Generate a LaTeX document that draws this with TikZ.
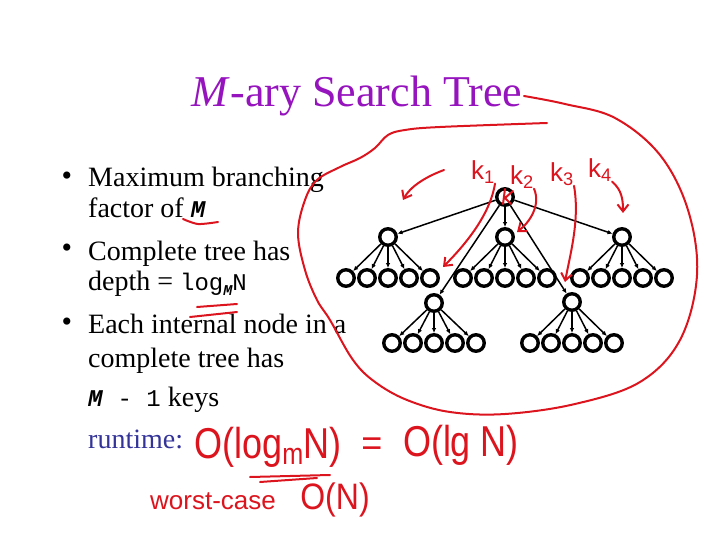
\documentclass[tikz,border=0pt]{standalone}
\usepackage{fontspec}
\setmainfont{Liberation Serif}
\setmonofont{Liberation Mono}
\newfontfamily\inkfont{Liberation Sans}
\usetikzlibrary{arrows.meta,positioning}
\definecolor{titlepurple}{RGB}{150,20,190}
\definecolor{runblue}{RGB}{51,51,153}
\definecolor{inkred}{RGB}{220,20,30}
\newcommand{\code}[1]{{\fontsize{24}{24}\selectfont\ttfamily #1}}
\newcommand{\codeM}{{\fontsize{24}{24}\selectfont\ttfamily\bfseries\itshape M}}
\newcommand{\subM}{\raisebox{-5pt}{\fontsize{15}{15}\selectfont\ttfamily\bfseries\itshape M}}

\begin{document}
\begin{tikzpicture}[x=1pt, y=-1pt,
    vertex/.style={draw, circle, line width=3.4pt, minimum size=16.5pt, inner sep=0pt},
    link/.style={-{Latex[length=5pt,width=4.5pt]}, line width=1.5pt},
    txt/.style={anchor=base west, inner sep=0pt, font=\fontsize{28}{34}\selectfont},
    bullet/.style={inner sep=0pt, font=\fontsize{30}{30}\selectfont},
    ink/.style={draw=inkred, line width=2pt, line cap=round, line join=round},
    inkarrow/.style={ink, -{Straight Barb[length=7pt,width=11pt]}},
    hand/.style={text=inkred, inner sep=0pt, font=\inkfont\fontsize{#1}{#1}\selectfont},
  ]
  \useasboundingbox (0,0) rectangle (720,540);

  % title
  \node[font=\fontsize{44}{44}\selectfont, text=titlepurple, anchor=base] (title) at (357,107) {\textit{M}-ary Search Tree};

  % bullets
  \node[bullet] (d1) at (67,179) {\textbullet};
  \node[txt] (b1a) at (88,187) {Maximum branching};
  \node[txt] (b1b) at (88,218) {factor of \codeM};
  \node[bullet] (d2) at (67,251) {\textbullet};
  \node[txt] (b2a) at (88,260) {Complete tree has};
  \node[txt] (b2b) at (88,290) {depth = \code{log}\subM\code{N}};
  \node[bullet] (d3) at (67,325) {\textbullet};
  \node[txt] (b3a) at (88,333) {Each internal node in a};
  \node[txt] (b3b) at (88,367) {complete tree has};
  \node[txt] (b3c) at (88,406) {\code{\textbf{\textit{M}} - 1} keys};
  \node[txt, text=runblue] (rt) at (88,448) {runtime:};

  % tree
  \node[vertex] (root) at (505,197) {};
  \node[vertex] (c1) at (388,237) {};
  \node[vertex] (c2) at (434,303) {};
  \node[vertex] (c3) at (505,237) {};
  \node[vertex] (c4) at (572,302) {};
  \node[vertex] (c5) at (622,237) {};
  \foreach \c in {1,...,5}
    \draw[link] (root) -- (c\c);
  \foreach \c/\x/\y in {c1/388/278, c2/434/343, c3/505/278, c4/572/343, c5/622/278} {
    \foreach \i in {1,...,5} {
      \node[vertex] (\c-\i) at ({\x+(\i-3)*21},\y) {};
      \draw[link] (\c) -- (\c-\i);
    }
  }

  % handwritten notes
  \node[hand=26] (k1) at (483,172) {k\textsubscript{1}};
  \node[hand=26] (k2) at (522,177) {k\textsubscript{2}};
  \node[hand=26] (k3) at (562,174) {k\textsubscript{3}};
  \node[hand=26] (k4) at (600,170) {k\textsubscript{4}};
  \node[hand=36] (cost1) at (268,447) {\scalebox{1}[1.2]{O(log\textsubscript{m}N)}};
  \node[hand=36] (eq) at (372,447) {=};
  \node[hand=36] (cost2) at (461,445) {\scalebox{1}[1.2]{O(lg N)}};
  \node[hand=26] (worst) at (213,501) {worst-case};
  \node[hand=32] (cost3) at (335,500) {\scalebox{1}[1.15]{O(N)}};

  \coordinate (tip1) at (443,267);
  \coordinate (tip2) at (517,232);
  \coordinate (tip3) at (565,282);
  \coordinate (tip4) at (623,213);
  \coordinate (lstart) at (444,170);
  \coordinate (ltip) at (403,200);
  \draw[inkarrow] (k1.south east) .. controls (490,215) and (465,245) .. (tip1);
  \draw[inkarrow] (k2.south east) .. controls (541,205) and (530,222) .. (tip2);
  \draw[inkarrow] (k3.south east) .. controls (580,220) and (570,255) .. (tip3);
  \draw[inkarrow] (k4.south east) .. controls (622,190) and (623,200) .. (tip4);
  \draw[inkarrow] (lstart) .. controls (425,177) and (410,187) .. (ltip);

  % mark in the root
  \draw[ink] (505,189) -- (503,204) (513,191) -- (505,198) -- (511,204);

  % underlines
  \draw[ink] plot[smooth] coordinates {(183,219) (198,224) (218,222)};
  \draw[ink] (190,317) -- (237,312) (197,307) -- (237,304);
  \draw[ink] (250,477) -- (330,475) (260,482) -- (317,478);

  % loop round the tree
  \draw[ink] plot[smooth, tension=0.6] coordinates {(524,96) (565,104) (615,118) (660,155) (688,210) (697,275) (680,340) (640,382) (575,404) (505,414) (450,412) (407,400) (375,382) (353,360) (330,320) (317,300) (305,270) (298,233) (305,200) (317,180) (340,167) (360,158) (375,148) (388,135) (405,130) (440,127) (547,123)};
\end{tikzpicture}
\end{document}
